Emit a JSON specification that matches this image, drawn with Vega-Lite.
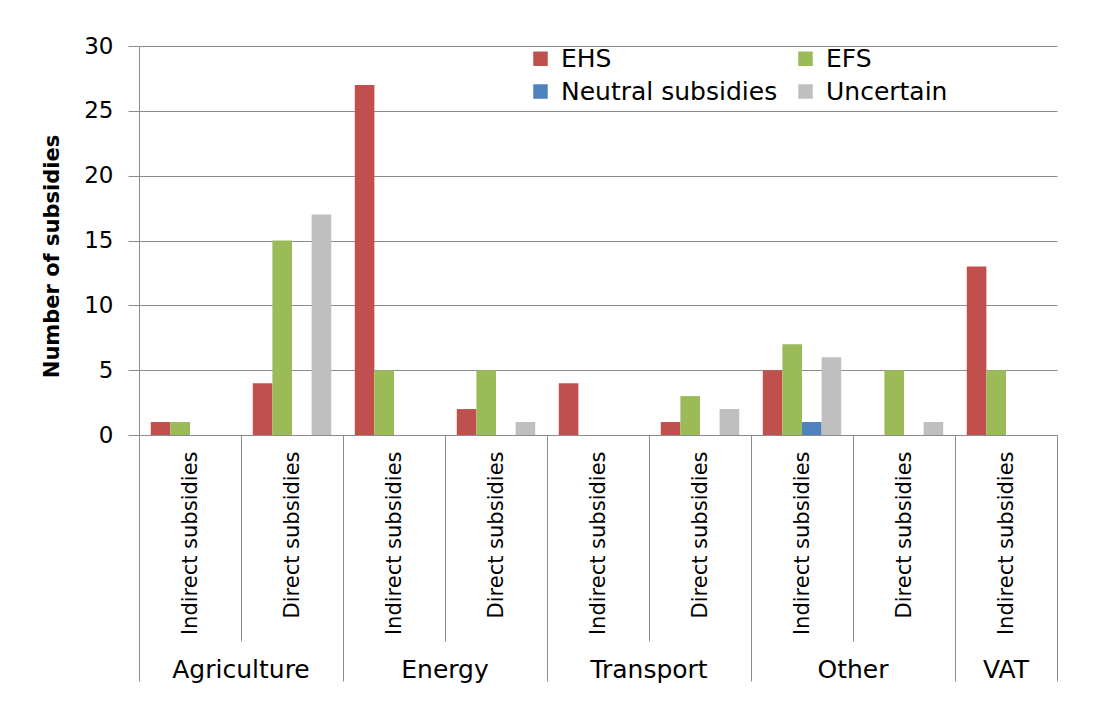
{
  "$schema": "https://vega.github.io/schema/vega-lite/v6.json",
  "width": 918,
  "height": 389,
  "autosize": {"type": "none"},
  "padding": {"left": 139, "top": 46, "right": 40, "bottom": 281},
  "background": "white",
  "config": {
    "font": "DejaVu Sans",
    "view": {"stroke": null},
    "axis": {"labelColor": "black", "titleColor": "black"}
  },
  "data": {
    "values": [
      {"group": "Agriculture", "key": "Agriculture|Indirect subsidies", "type": "EHS", "count": 1},
      {"group": "Agriculture", "key": "Agriculture|Indirect subsidies", "type": "EFS", "count": 1},
      {"group": "Agriculture", "key": "Agriculture|Direct subsidies", "type": "EHS", "count": 4},
      {"group": "Agriculture", "key": "Agriculture|Direct subsidies", "type": "EFS", "count": 15},
      {"group": "Agriculture", "key": "Agriculture|Direct subsidies", "type": "Uncertain", "count": 17},
      {"group": "Energy", "key": "Energy|Indirect subsidies", "type": "EHS", "count": 27},
      {"group": "Energy", "key": "Energy|Indirect subsidies", "type": "EFS", "count": 5},
      {"group": "Energy", "key": "Energy|Direct subsidies", "type": "EHS", "count": 2},
      {"group": "Energy", "key": "Energy|Direct subsidies", "type": "EFS", "count": 5},
      {"group": "Energy", "key": "Energy|Direct subsidies", "type": "Uncertain", "count": 1},
      {"group": "Transport", "key": "Transport|Indirect subsidies", "type": "EHS", "count": 4},
      {"group": "Transport", "key": "Transport|Direct subsidies", "type": "EHS", "count": 1},
      {"group": "Transport", "key": "Transport|Direct subsidies", "type": "EFS", "count": 3},
      {"group": "Transport", "key": "Transport|Direct subsidies", "type": "Uncertain", "count": 2},
      {"group": "Other", "key": "Other|Indirect subsidies", "type": "EHS", "count": 5},
      {"group": "Other", "key": "Other|Indirect subsidies", "type": "EFS", "count": 7},
      {"group": "Other", "key": "Other|Indirect subsidies", "type": "Neutral subsidies", "count": 1},
      {"group": "Other", "key": "Other|Indirect subsidies", "type": "Uncertain", "count": 6},
      {"group": "Other", "key": "Other|Direct subsidies", "type": "EFS", "count": 5},
      {"group": "Other", "key": "Other|Direct subsidies", "type": "Uncertain", "count": 1},
      {"group": "VAT", "key": "VAT|Indirect subsidies", "type": "EHS", "count": 13},
      {"group": "VAT", "key": "VAT|Indirect subsidies", "type": "EFS", "count": 5}
    ]
  },
  "layer": [
    {
      "mark": {"type": "bar"},
      "encoding": {
        "x": {
          "field": "key",
          "type": "nominal",
          "scale": {
            "domain": [
              "Agriculture|Indirect subsidies", "Agriculture|Direct subsidies",
              "Energy|Indirect subsidies", "Energy|Direct subsidies",
              "Transport|Indirect subsidies", "Transport|Direct subsidies",
              "Other|Indirect subsidies", "Other|Direct subsidies",
              "VAT|Indirect subsidies"
            ],
            "paddingInner": 0,
            "paddingOuter": 0
          },
          "axis": {
            "title": null,
            "orient": "bottom",
            "tickBand": "extent",
            "domainColor": "#8c8c8c",
            "tickColor": "#8c8c8c",
            "tickSize": 206,
            "labelAngle": 270,
            "labelAlign": "right",
            "labelBaseline": "middle",
            "labelPadding": -190,
            "labelFontSize": 21,
            "labelLimit": 0,
            "labelOverlap": false,
            "labelExpr": "datum.label ? split(datum.label, '|')[1] : ''"
          }
        },
        "xOffset": {
          "field": "type",
          "type": "nominal",
          "scale": {
            "domain": ["EHS", "EFS", "Neutral subsidies", "Uncertain"],
            "paddingInner": 0,
            "paddingOuter": 0.6
          }
        },
        "y": {
          "field": "count",
          "type": "quantitative",
          "scale": {"domain": [0, 30], "nice": false},
          "axis": {
            "title": "Number of subsidies",
            "values": [0, 5, 10, 15, 20, 25, 30],
            "grid": true,
            "gridColor": "#8c8c8c",
            "domainColor": "#8c8c8c",
            "tickColor": "#8c8c8c",
            "tickSize": 11,
            "labelPadding": 15,
            "labelFontSize": 23,
            "titleFontSize": 21,
            "titleFontWeight": "bold",
            "titleAngle": 270,
            "titleBaseline": "middle",
            "titleX": -87,
            "titleY": 210
          }
        },
        "color": {
          "field": "type",
          "type": "nominal",
          "scale": {
            "domain": ["EHS", "EFS", "Neutral subsidies", "Uncertain"],
            "range": ["#C0504D", "#9BBB59", "#4F81BD", "#BFBFBF"]
          },
          "legend": {
            "title": null,
            "orient": "none",
            "direction": "horizontal",
            "legendX": 389,
            "legendY": 0,
            "columns": 2,
            "gridAlign": "each",
            "symbolType": "square",
            "symbolSize": 210,
            "symbolStrokeWidth": 0,
            "labelFontSize": 25,
            "labelColor": "black",
            "labelOffset": 8,
            "labelLimit": 0,
            "columnPadding": 15,
            "rowPadding": 7,
            "padding": 0
          }
        }
      }
    },
    {
      "mark": {"type": "rule", "opacity": 0},
      "encoding": {
        "x": {
          "field": "key",
          "type": "nominal",
          "scale": {
            "domain": [
              "Agriculture|Indirect subsidies", "Agriculture|Direct subsidies",
              "Energy|Indirect subsidies", "Energy|Direct subsidies",
              "Transport|Indirect subsidies", "Transport|Direct subsidies",
              "Other|Indirect subsidies", "Other|Direct subsidies",
              "VAT|Indirect subsidies"
            ],
            "paddingInner": 0,
            "paddingOuter": 0
          },
          "axis": {
            "title": null,
            "orient": "bottom",
            "values": [
              "Agriculture|Indirect subsidies", "Energy|Indirect subsidies",
              "Transport|Indirect subsidies", "Other|Indirect subsidies"
            ],
            "domain": false,
            "ticks": false,
            "grid": false,
            "labelAngle": 0,
            "labelAlign": "center",
            "labelBaseline": "alphabetic",
            "labelPadding": 242,
            "labelOffset": 51,
            "labelFontSize": 25,
            "labelLimit": 0,
            "labelOverlap": false,
            "labelExpr": "split(datum.label, '|')[0]"
          }
        }
      }
    },
    {
      "mark": {"type": "rule", "opacity": 0},
      "encoding": {
        "x": {
          "field": "key",
          "type": "nominal",
          "scale": {
            "domain": [
              "Agriculture|Indirect subsidies", "Agriculture|Direct subsidies",
              "Energy|Indirect subsidies", "Energy|Direct subsidies",
              "Transport|Indirect subsidies", "Transport|Direct subsidies",
              "Other|Indirect subsidies", "Other|Direct subsidies",
              "VAT|Indirect subsidies"
            ],
            "paddingInner": 0,
            "paddingOuter": 0
          },
          "axis": {
            "title": null,
            "orient": "bottom",
            "values": ["VAT|Indirect subsidies"],
            "domain": false,
            "ticks": false,
            "grid": false,
            "labelAngle": 0,
            "labelAlign": "center",
            "labelBaseline": "alphabetic",
            "labelPadding": 242,
            "labelFontSize": 25,
            "labelLimit": 0,
            "labelOverlap": false,
            "labelExpr": "split(datum.label, '|')[0]"
          }
        }
      }
    },
    {
      "mark": {"type": "rule", "opacity": 0},
      "encoding": {
        "x": {
          "field": "key",
          "type": "nominal",
          "scale": {
            "domain": [
              "Agriculture|Indirect subsidies", "Agriculture|Direct subsidies",
              "Energy|Indirect subsidies", "Energy|Direct subsidies",
              "Transport|Indirect subsidies", "Transport|Direct subsidies",
              "Other|Indirect subsidies", "Other|Direct subsidies",
              "VAT|Indirect subsidies"
            ],
            "paddingInner": 0,
            "paddingOuter": 0
          },
          "axis": {
            "title": null,
            "orient": "bottom",
            "values": [
              "Agriculture|Indirect subsidies", "Energy|Indirect subsidies",
              "Transport|Indirect subsidies", "Other|Indirect subsidies",
              "VAT|Indirect subsidies"
            ],
            "bandPosition": 0,
            "domain": false,
            "ticks": true,
            "tickSize": 246,
            "tickColor": "#8c8c8c",
            "grid": false,
            "labels": false
          }
        }
      }
    },
    {
      "mark": {"type": "rule", "opacity": 0},
      "encoding": {
        "x": {
          "field": "key",
          "type": "nominal",
          "scale": {
            "domain": [
              "Agriculture|Indirect subsidies", "Agriculture|Direct subsidies",
              "Energy|Indirect subsidies", "Energy|Direct subsidies",
              "Transport|Indirect subsidies", "Transport|Direct subsidies",
              "Other|Indirect subsidies", "Other|Direct subsidies",
              "VAT|Indirect subsidies"
            ],
            "paddingInner": 0,
            "paddingOuter": 0
          },
          "axis": {
            "title": null,
            "orient": "bottom",
            "values": ["VAT|Indirect subsidies"],
            "bandPosition": 1,
            "domain": false,
            "ticks": true,
            "tickSize": 246,
            "tickColor": "#8c8c8c",
            "grid": false,
            "labels": false
          }
        }
      }
    }
  ],
  "resolve": {"scale": {"x": "independent"}, "axis": {"x": "independent"}}
}
